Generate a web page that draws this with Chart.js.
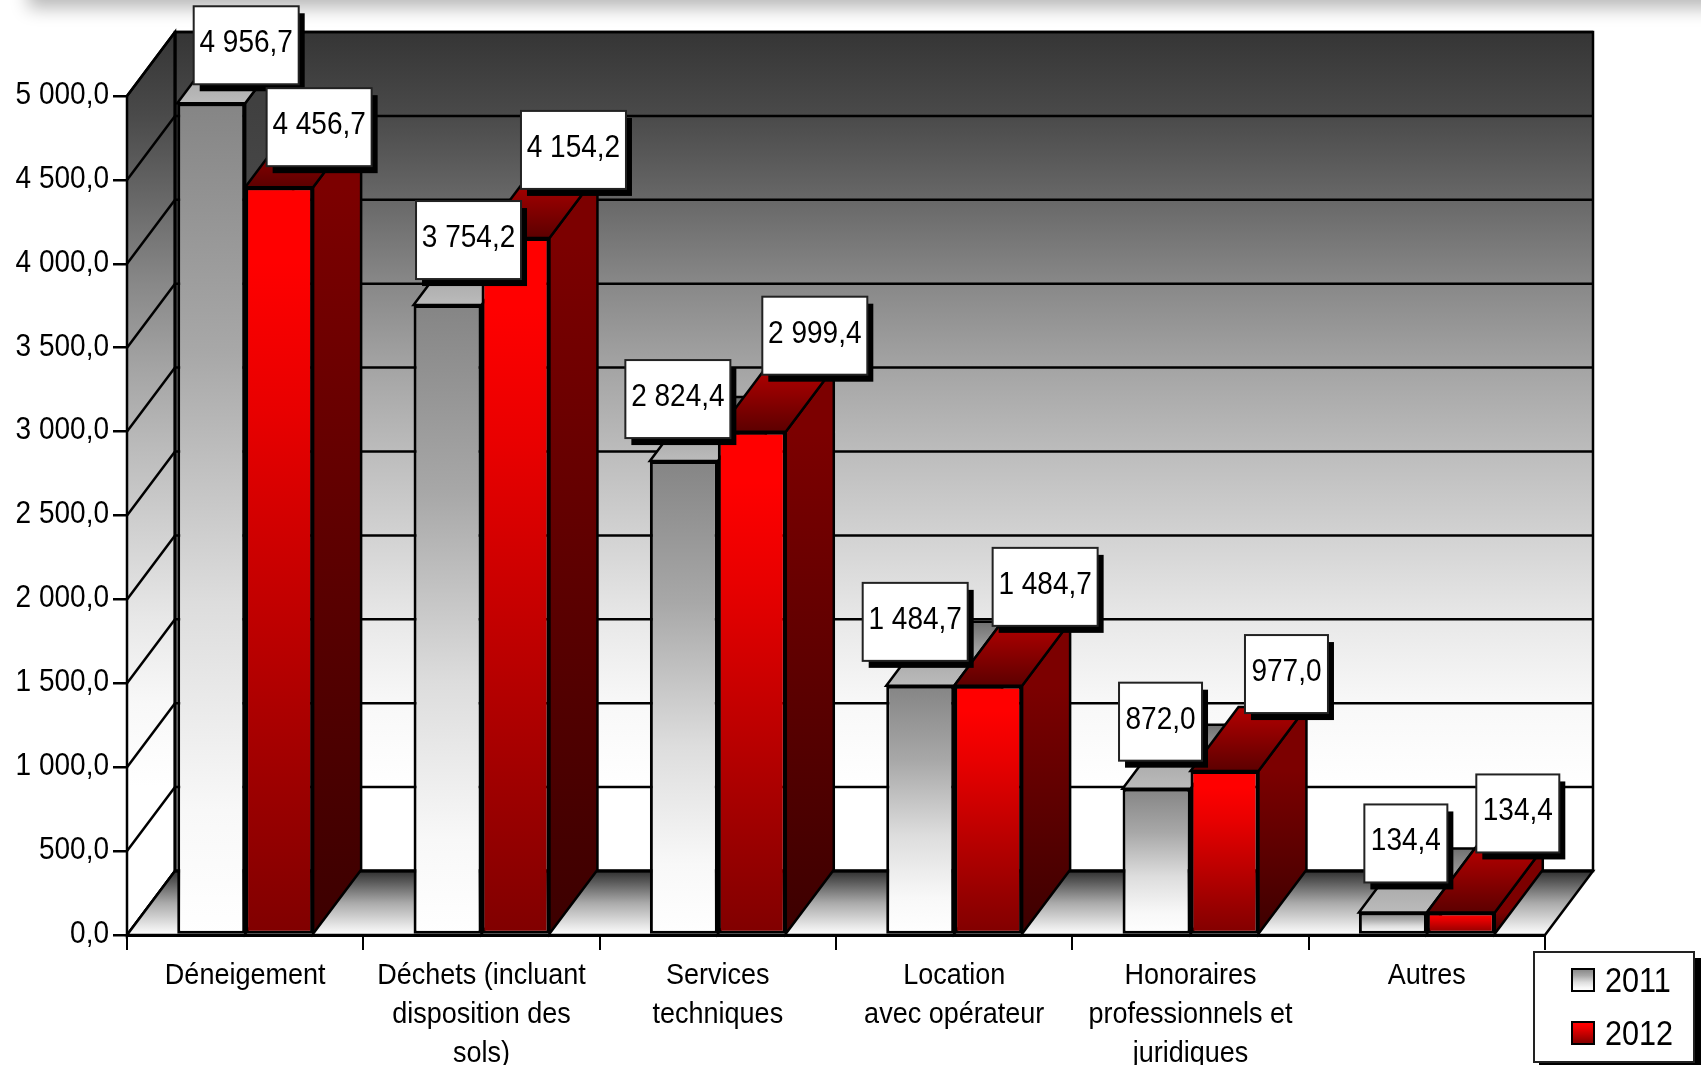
<!DOCTYPE html>
<html>
<head>
<meta charset="utf-8">
<style>
  html, body { margin: 0; padding: 0; background: #fff; overflow: hidden; }
  #wrap { position: relative; width: 1701px; height: 1065px; overflow: hidden; }
  #band { position: absolute; left: 28px; top: -40px; width: 1800px; height: 40px; box-shadow: 0 8px 18px #b8b8b8; background: #b8b8b8; }
  canvas { position: absolute; left: 0; top: 0; }
</style>
<script src="https://cdn.jsdelivr.net/npm/chart.js@4"></script>
</head>
<body>
<div id="wrap">
  <div id="band"></div>
  <canvas id="chart" width="1701" height="1065"></canvas>
</div>
<script>
const categories = [
    ['Déneigement'],
    ['Déchets (incluant', 'disposition des', 'sols)'],
    ['Services', 'techniques'],
    ['Location', 'avec opérateur'],
    ['Honoraires', 'professionnels et', 'juridiques'],
    ['Autres']
];
const seriesNames = ['2011', '2012'];
const values2011 = [4956.7, 3754.2, 2824.4, 1484.7, 872.0, 134.4];
const values2012 = [4456.7, 4154.2, 2999.4, 1484.7, 977.0, 134.4];

// the value boxes were placed by hand in the original, offset from bar top center
const boxShift = [
    [[35, -58], [21, -65], [-6, -62], [-5, -64], [4, -67], [13, -69]],
    [[40, -60], [58, -88], [63, -96], [57, -99], [62, -97], [57, -99]]
];

const depthX = 48;
const depthY = 64;
const font = '"Liberation Sans", sans-serif';

// "5 000,0" style numbers
function formatNumber(v) {
    const parts = v.toFixed(1).split('.');
    return parts[0].replace(/\B(?=(\d{3})+$)/g, ' ') + ',' + parts[1];
}

function vGradient(ctx, y0, y1, stops) {
    const g = ctx.createLinearGradient(0, y0, 0, y1);
    stops.forEach(s => g.addColorStop(s[0], s[1]));
    return g;
}

function poly(ctx, pts, fill) {
    ctx.beginPath();
    pts.forEach((p, i) => i ? ctx.lineTo(p[0], p[1]) : ctx.moveTo(p[0], p[1]));
    ctx.closePath();
    if (fill) {
        ctx.fillStyle = fill;
        ctx.fill();
    }
    ctx.stroke();
}

function line(ctx, x0, y0, x1, y1) {
    ctx.beginPath();
    ctx.moveTo(x0, y0);
    ctx.lineTo(x1, y1);
    ctx.stroke();
}

const frontStops = [
    [[0, '#858585'], [0.3, '#a8a8a8'], [0.6, '#dddddd'], [0.85, '#f8f8f8'], [1, '#ffffff']],
    [[0, '#ff0000'], [0.1, '#ff0000'], [0.3, '#e80000'], [0.57, '#c00000'], [0.83, '#980000'], [1, '#800000']]
];
const sideStops = [
    [[0, '#404040'], [1, '#808080']],
    [[0, '#7c0000'], [1, '#3c0000']]
];
const topStops = [
    [[0, '#707070'], [0.5, '#a8a8a8'], [1, '#bbbbbb']],
    [[0, '#b40000'], [1, '#5c0000']]
];
const wallStops = [
    [0, '#353535'], [0.1, '#4a4a4a'], [0.2, '#686868'], [0.3, '#888888'], [0.4, '#a4a4a4'],
    [0.5, '#bcbcbc'], [0.7, '#e8e8e8'], [0.8, '#f8f8f8'], [0.9, '#ffffff'], [1, '#ffffff']
];

// back wall, left wall, floor and their grid lines
const wallsPlugin = {
    id: 'walls',
    beforeDraw(chart) {
        const ctx = chart.ctx;
        const y = chart.scales.y;
        const a = chart.chartArea;
        const top = a.top - depthY;
        const floorY = a.bottom - depthY;

        ctx.save();
        ctx.strokeStyle = '#000';
        ctx.lineWidth = 2.5;
        const wallFill = vGradient(ctx, top, floorY, wallStops);
        poly(ctx, [[a.left + depthX, top], [a.right + depthX, top], [a.right + depthX, floorY], [a.left + depthX, floorY]], wallFill);
        poly(ctx, [[a.left, a.top], [a.left + depthX, top], [a.left + depthX, floorY], [a.left, a.bottom]], wallFill);

        y.ticks.forEach(t => {
            const py = y.getPixelForValue(t.value);
            line(ctx, a.left, py, a.left + depthX, py - depthY);
            line(ctx, a.left + depthX, py - depthY, a.right + depthX, py - depthY);
        });

        const floorFill = vGradient(ctx, floorY, a.bottom, [[0, '#303030'], [0.5, '#aaaaaa'], [1, '#ffffff']]);
        poly(ctx, [[a.left, a.bottom], [a.left + depthX, floorY], [a.right + depthX, floorY], [a.right, a.bottom]], floorFill);

        ctx.lineWidth = 3;
        line(ctx, a.left + depthX, top, a.left + depthX, floorY);
        line(ctx, a.left + depthX, floorY, a.right + depthX, floorY);
        ctx.restore();
    },
    // side and top faces of the bars, the library then paints the front faces
    beforeDatasetsDraw(chart) {
        const ctx = chart.ctx;
        ctx.save();
        ctx.strokeStyle = '#000';
        ctx.lineWidth = 2.5;
        [0, 1].forEach(ds => {
            chart.getDatasetMeta(ds).data.forEach(bar => {
                const x0 = bar.x - bar.width / 2;
                const x1 = bar.x + bar.width / 2;
                poly(ctx, [[x1, bar.y], [x1 + depthX, bar.y - depthY], [x1 + depthX, bar.base - depthY], [x1, bar.base]],
                    vGradient(ctx, bar.y, bar.base, sideStops[ds]));
                poly(ctx, [[x0, bar.y], [x0 + depthX, bar.y - depthY], [x1 + depthX, bar.y - depthY], [x1, bar.y]],
                    vGradient(ctx, bar.y - depthY, bar.y, topStops[ds]));
            });
        });
        ctx.restore();
    },
    afterDraw(chart) {
        const ctx = chart.ctx;
        ctx.save();

        // value boxes
        ctx.textAlign = 'center';
        ctx.textBaseline = 'middle';
        ctx.font = '32px ' + font;
        [0, 1].forEach(ds => {
            chart.getDatasetMeta(ds).data.forEach((bar, i) => {
                const v = chart.data.datasets[ds].data[i];
                const text = formatNumber(v);
                const w = text.length > 5 ? 105 : 83;
                const h = 78;
                const cx = bar.x + boxShift[ds][i][0];
                const cy = bar.y + boxShift[ds][i][1];
                ctx.fillStyle = '#000';
                ctx.fillRect(cx - w / 2 + 6, cy - h / 2 + 7, w, h);
                ctx.fillStyle = '#fff';
                ctx.strokeStyle = '#222';
                ctx.lineWidth = 2;
                ctx.fillRect(cx - w / 2, cy - h / 2, w, h);
                ctx.strokeRect(cx - w / 2, cy - h / 2, w, h);
                ctx.fillStyle = '#000';
                ctx.fillText(text, cx, cy - 2);
            });
        });

        // legend
        ctx.fillStyle = '#000';
        ctx.fillRect(1539, 958, 162, 107);
        ctx.fillStyle = '#fff';
        ctx.strokeStyle = '#222';
        ctx.lineWidth = 2;
        ctx.fillRect(1534, 952, 160, 110);
        ctx.strokeRect(1534, 952, 160, 110);
        ctx.textAlign = 'left';
        ctx.font = '35px ' + font;
        seriesNames.forEach((name, ds) => {
            const sy = 969 + ds * 53;
            ctx.strokeStyle = '#000';
            ctx.fillStyle = vGradient(ctx, sy, sy + 22, frontStops[ds]);
            ctx.fillRect(1572, sy, 22, 22);
            ctx.strokeRect(1572, sy, 22, 22);
            ctx.fillStyle = '#000';
            ctx.fillText(name, 1605, sy + 13);
        });
        ctx.restore();
    }
};

function barFront(ds) {
    return function (c) {
        const y = c.chart.scales.y;
        const py0 = y ? y.getPixelForValue(c.raw) : NaN;
        const py1 = y ? y.getPixelForValue(0) : NaN;
        // options are also resolved once before the first layout
        if (!Number.isFinite(py0) || !Number.isFinite(py1)) {
            return frontStops[ds][0][1];
        }
        return vGradient(c.chart.ctx, py0, py1, frontStops[ds]);
    };
}

const ctx = document.getElementById('chart').getContext('2d');

// no narrow face is installed, so squeeze all text of the chart around its anchor
const plainFillText = ctx.fillText.bind(ctx);
ctx.fillText = function (text, x, y) {
    const stretch = ctx.font.startsWith('30px') ? 0.9 : 0.875;
    // y axis labels sit a pixel above their tick
    const nudge = ctx.textAlign === 'right' ? -1 : 0;
    ctx.save();
    ctx.translate(x, y + nudge);
    ctx.scale(stretch, 1);
    plainFillText(text, 0, 0);
    ctx.restore();
};

new Chart(ctx, {
    type: 'bar',
    data: {
        labels: categories,
        datasets: [
            { label: seriesNames[0], data: values2011, backgroundColor: barFront(0) },
            { label: seriesNames[1], data: values2012, backgroundColor: barFront(1) }
        ]
    },
    plugins: [wallsPlugin],
    options: {
        responsive: false,
        animation: false,
        devicePixelRatio: 1,
        layout: { padding: { left: 0, top: 96, right: 156, bottom: 0 } },
        categoryPercentage: 0.575,
        barPercentage: 1,
        elements: {
            bar: { borderColor: '#000', borderWidth: 3, borderSkipped: false, inflateAmount: 0 }
        },
        scales: {
            x: {
                afterFit: s => { s.height = 130; },
                grid: { drawOnChartArea: false, color: '#000', tickColor: '#000', lineWidth: 2, tickLength: 15 },
                border: { color: '#000', width: 3 },
                ticks: {
                    color: '#000',
                    font: { family: font, size: 30, lineHeight: 1.3 },
                    padding: 6,
                    maxRotation: 0,
                    autoSkip: false
                }
            },
            y: {
                min: 0,
                max: 5000,
                afterFit: s => { s.width = 127; },
                grid: { drawOnChartArea: false, color: '#000', tickColor: '#000', lineWidth: 2.5, tickLength: 14 },
                border: { color: '#000', width: 2 },
                ticks: {
                    stepSize: 500,
                    color: '#000',
                    font: { family: font, size: 32 },
                    padding: 4,
                    callback: v => formatNumber(v)
                }
            }
        },
        plugins: {
            legend: { display: false },
            tooltip: { enabled: false }
        }
    }
});
</script>
</body>
</html>
